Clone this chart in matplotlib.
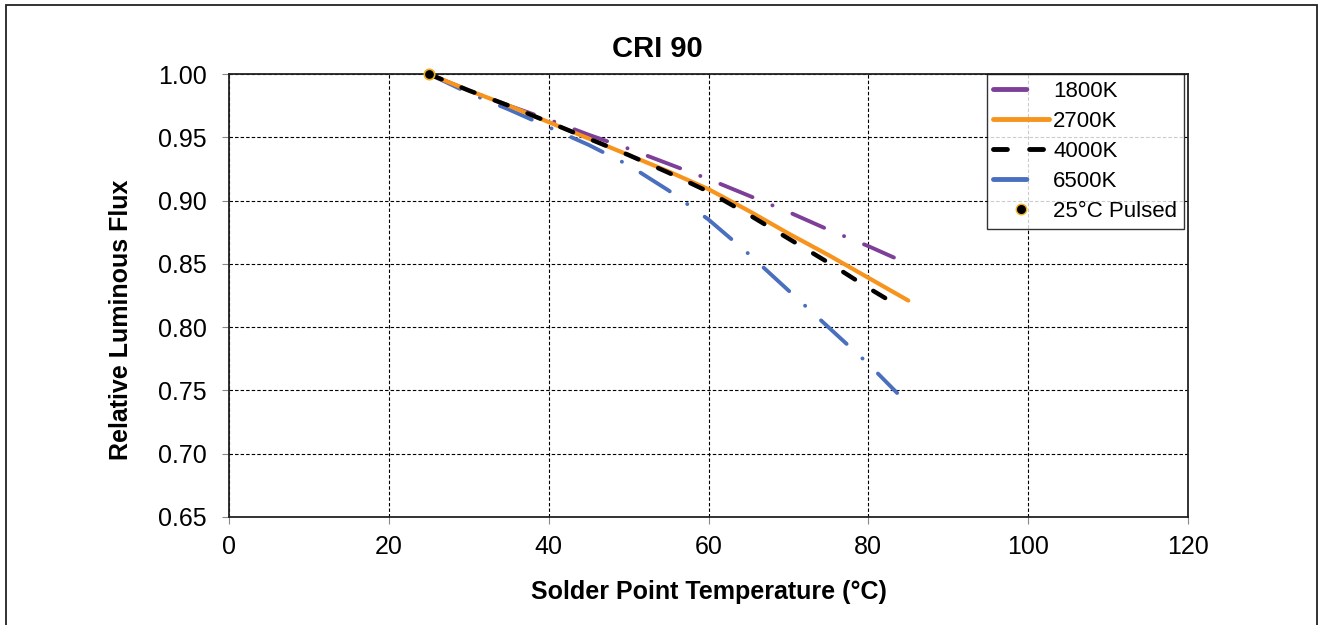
import matplotlib
matplotlib.use("Agg")
import matplotlib.pyplot as plt
import matplotlib.lines as mlines
from matplotlib.patches import Rectangle

plt.rcParams["font.family"] = ["Liberation Sans", "DejaVu Sans"]
plt.rcParams["lines.scale_dashes"] = False

# values
temp_1800 = [25, 30, 35, 40, 45, 50, 55, 60, 65, 70, 75, 80, 83.2]
flux_1800 = [1.000, 0.987, 0.975, 0.964, 0.952, 0.941, 0.929, 0.917, 0.904, 0.891, 0.877, 0.864, 0.855]

temp_2700 = [25, 30, 35, 40, 45, 50, 55, 60, 65, 70, 75, 80, 85.0]
flux_2700 = [1.000, 0.987, 0.975, 0.962, 0.949, 0.936, 0.923, 0.909, 0.892, 0.874, 0.857, 0.839, 0.821]

temp_4000 = [25, 30, 35, 40, 45, 50, 55, 60, 65, 70, 75, 80, 82.9]
flux_4000 = [1.000, 0.987, 0.975, 0.962, 0.949, 0.936, 0.922, 0.907, 0.889, 0.870, 0.851, 0.831, 0.820]

temp_6500 = [25, 30, 35, 40, 45, 50, 55, 60, 65, 70, 75, 80, 83.6]
flux_6500 = [1.000, 0.985, 0.972, 0.958, 0.944, 0.928, 0.908, 0.885, 0.858, 0.829, 0.800, 0.771, 0.748]

pulsed_temp = [25]
pulsed_flux = [1.0]

c_1800 = "#7D3F98"
c_2700 = "#F7941D"
c_4000 = "#000000"
c_6500 = "#4A6FBF"

fig = plt.figure(figsize=(13.2, 6.25), dpi=100)
ax = fig.add_axes([0.1735, 0.1728, 0.7265, 0.7088])

lw = 2.8
dashdot = (0, (25, 15.5, 0.1, 15.5))
ax.plot(temp_6500, flux_6500, color=c_6500, lw=lw, linestyle=dashdot,
        dash_capstyle="round", zorder=3)
ax.plot(temp_1800, flux_1800, color=c_1800, lw=lw, linestyle=dashdot,
        dash_capstyle="round", zorder=3)
ax.plot(temp_2700, flux_2700, color=c_2700, lw=3.0, solid_capstyle="round", zorder=4)
ax.plot(temp_4000, flux_4000, color=c_4000, lw=3.2, linestyle=(0, (10, 15.5)),
        dash_capstyle="round", zorder=5)
ax.plot(pulsed_temp, pulsed_flux, "o", color="black", markeredgecolor="#F2B01E",
        markersize=7.5, markeredgewidth=1.2, zorder=6, clip_on=False)

ax.set_xlim(0, 120)
ax.set_ylim(0.65, 1.00)
ax.set_xticks(range(0, 121, 20))
ax.set_yticks([0.65, 0.70, 0.75, 0.80, 0.85, 0.90, 0.95, 1.00])
ax.set_yticklabels([f"{v:.2f}" for v in ax.get_yticks()])
ax.tick_params(labelsize=18, length=5, width=0.8, color="#888888")
ax.tick_params(axis="y", pad=11)
ax.tick_params(axis="x", pad=8)
ax.grid(True, color="black", linestyle=(0, (2.5, 1.5)), linewidth=0.8)
for s in ax.spines.values():
    s.set_linewidth(1.3)
    s.set_color("#222222")

fig.text(0.498, 1 - 49 / 625, "CRI 90", fontsize=21, fontweight="bold",
         ha="center", va="center")
ax.set_xlabel("Solder Point Temperature (°C)", fontsize=18, fontweight="bold", labelpad=15)
fig.text(121 / 1320, 1 - 320 / 625, "Relative Luminous Flux", fontsize=18,
         fontweight="bold", rotation=90, ha="center", va="center")

handles = [
    mlines.Line2D([], [], color=c_1800, lw=3.5, linestyle=(0, (24, 100)), dash_capstyle="round"),
    mlines.Line2D([], [], color=c_2700, lw=3.5, solid_capstyle="round"),
    mlines.Line2D([], [], color=c_4000, lw=3.5, linestyle=(0, (10, 16)), dash_capstyle="round"),
    mlines.Line2D([], [], color=c_6500, lw=3.5, linestyle=(0, (24, 100)), dash_capstyle="round"),
    mlines.Line2D([], [], color="black", marker="o", linestyle="none",
                  markeredgecolor="#F2B01E", markersize=7.5),
]
labels = ["1800K", "2700K", "4000K", "6500K", "25°C Pulsed"]
leg = ax.legend(handles, labels, loc="upper right", bbox_to_anchor=(0.9958, 1.0),
                fontsize=16, frameon=True, fancybox=False, edgecolor="black",
                borderaxespad=0, handlelength=2.5, handletextpad=0.2,
                labelspacing=0.41, borderpad=0.3)
leg.get_frame().set_linewidth(1.0)
leg.set_zorder(10)

fig.patches.append(Rectangle((6.5 / 1320, -0.05), 1310.5 / 1320, 1.0 - 5 / 625 + 0.05,
                             transform=fig.transFigure, fill=False,
                             edgecolor="#222222", linewidth=1.3))

fig.savefig("out.png", dpi=100)
